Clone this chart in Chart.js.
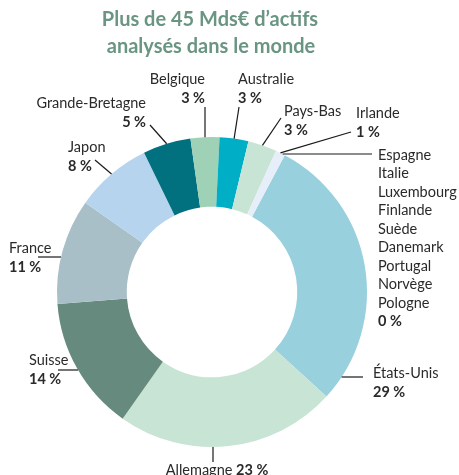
<!DOCTYPE html>
<html>
<head>
<meta charset="utf-8">
<script src="https://cdn.jsdelivr.net/npm/chart.js@4/dist/chart.umd.min.js"></script>
<style>
html,body{margin:0;padding:0;background:#fff;}
#wrap{position:relative;width:459px;height:475px;}
</style>
</head>
<body>
<div id="wrap"><canvas id="c" width="459" height="475"></canvas></div>
<script>
// ---- data ----
const categories = ['États-Unis','Allemagne','Suisse','France','Japon','Grande-Bretagne','Belgique','Australie','Pays-Bas','Irlande','Autres'];
const values = [29, 23, 14, 11, 8, 5, 3, 3, 3, 1, 0];
const otherCountries = ['Espagne','Italie','Luxembourg','Finlande','Suède','Danemark','Portugal','Norvège','Pologne'];
const titleLines = ['Plus de 45 Mds€ d\u2019actifs', 'analysés dans le monde'];
const colors = ['#99d0de','#c8e4d5','#668a7e','#a9bfc7','#b7d4ee','#017180','#9ed1b5','#00afc6','#c8e4d5','#e6eef9','#e6eef9'];

// ---- label layout (positions of annotation text) ----
const FONT = 'Lato, "Open Sans", sans-serif';
const labelLayout = [
  {i:0, x:373, y:373, align:'left', line:{mode:'h', x:363, y:377}},
  {i:1, x:217, y:470, align:'center', inline:true, line:{mode:'v', x:213, y:462}},
  {i:2, x:29, y:360, align:'left', line:{mode:'h', x:58, y:370}},
  {i:3, x:9, y:248, align:'left', line:{mode:'h', x:38, y:257}},
  {i:4, x:68, y:147, align:'left', line:{mode:'mid', x:95, y:160}},
  {i:5, x:146, y:103, align:'right', line:{mode:'mid', x:150, y:125}},
  {i:6, x:205, y:79, align:'right', line:{mode:'v', x:205, y:107}},
  {i:7, x:238, y:79, align:'left', line:{mode:'mid', x:239, y:107}},
  {i:8, x:284, y:111, align:'left', line:{mode:'mid', x:281, y:118}},
  {i:9, x:356, y:113, align:'left', line:{mode:'mid', x:351, y:132}},
  {i:10, x:378, y:155, align:'left', list:true, line:{mode:'h', x:372, y:154}}
];

const labelsPlugin = {
  id: 'labelsPlugin',
  afterDraw(chart) {
    const ctx = chart.ctx;
    const arcs = chart.getDatasetMeta(0).data;
    const a0 = arcs[0];
    const cx = a0.x, cy = a0.y, R = a0.outerRadius;
    ctx.save();
    // title
    ctx.fillStyle = '#6b9583';
    ctx.font = 'bold 20px ' + FONT;
    ctx.textAlign = 'center';
    ctx.textBaseline = 'middle';
    ctx.fillText(titleLines[0], 210, 20);
    ctx.fillText(titleLines[1], 211, 47);

    const nameFont = '14.5px ' + FONT;
    const pctFont = 'bold 14.5px ' + FONT;
    const lineH = 18.5;
    labelLayout.forEach(L => {
      const arc = arcs[L.i];
      const pct = values[L.i] + ' %';
      const name = categories[L.i];
      ctx.fillStyle = '#2a2a2a';
      ctx.textBaseline = 'middle';
      if (L.inline) {
        ctx.font = nameFont;
        const w1 = ctx.measureText(name + ' ').width;
        ctx.font = pctFont;
        const w2 = ctx.measureText(pct).width;
        const start = L.x - (w1 + w2) / 2;
        ctx.textAlign = 'left';
        ctx.font = nameFont;
        ctx.fillText(name + ' ', start, L.y);
        ctx.font = pctFont;
        ctx.fillText(pct, start + w1, L.y);
      } else if (L.list) {
        ctx.textAlign = 'left';
        ctx.font = nameFont;
        otherCountries.forEach((c, k) => ctx.fillText(c, L.x, L.y + k * lineH));
        ctx.font = pctFont;
        ctx.fillText(pct, L.x, L.y + otherCountries.length * lineH);
      } else {
        ctx.textAlign = L.align;
        ctx.font = nameFont;
        ctx.fillText(name, L.x, L.y);
        ctx.font = pctFont;
        ctx.fillText(pct, L.x, L.y + 19);
      }
      // leader line
      let ex, ey;
      const ln = L.line;
      if (ln.mode === 'h') {
        const dy = ln.y - cy;
        const dx = Math.sqrt(Math.max(0, R * R - dy * dy));
        ex = ln.x < cx ? cx - dx : cx + dx;
        ey = ln.y;
      } else if (ln.mode === 'v') {
        const dx = ln.x - cx;
        const dy = Math.sqrt(Math.max(0, R * R - dx * dx));
        ex = ln.x;
        ey = ln.y < cy ? cy - dy : cy + dy;
      } else {
        const m = (arc.startAngle + arc.endAngle) / 2;
        ex = cx + R * Math.cos(m);
        ey = cy + R * Math.sin(m);
      }
      ctx.strokeStyle = '#1a1a1a';
      ctx.lineWidth = 1.2;
      ctx.beginPath();
      ctx.moveTo(ln.x, ln.y);
      ctx.lineTo(ex, ey);
      ctx.stroke();
    });
    ctx.restore();
  }
};

new Chart(document.getElementById('c'), {
  type: 'doughnut',
  data: {
    labels: categories,
    datasets: [{
      data: values,
      backgroundColor: colors,
      borderWidth: 0
    }]
  },
  options: {
    responsive: false,
    animation: false,
    rotation: 28,
    cutout: '55%',
    layout: { padding: { left: 57, right: 92, top: 137, bottom: 28 } },
    plugins: { legend: { display: false }, tooltip: { enabled: false }, title: { display: false } }
  },
  plugins: [labelsPlugin]
});
</script>
</body>
</html>
